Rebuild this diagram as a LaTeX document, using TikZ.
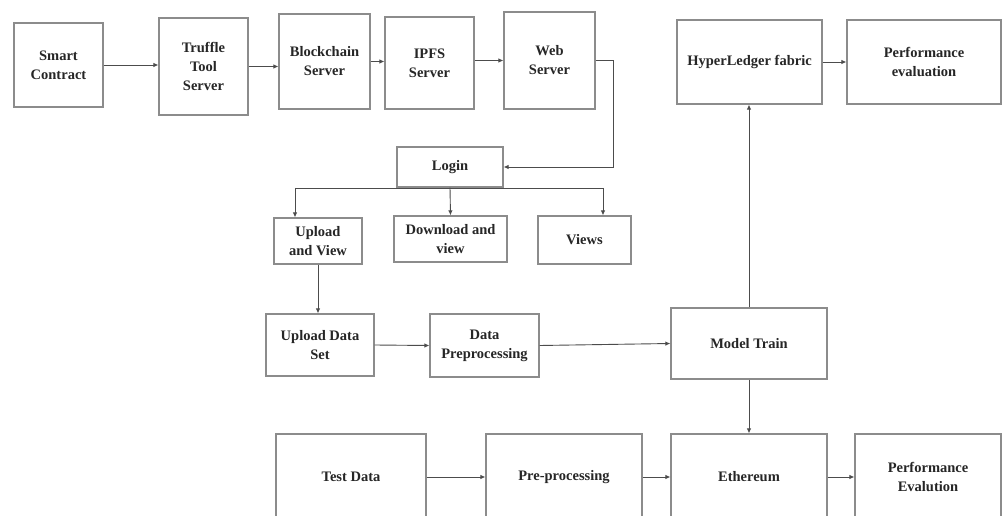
\documentclass[tikz,border=0pt]{standalone}
\usepackage{fontspec}
\setmainfont{Liberation Serif}
\usetikzlibrary{arrows.meta}
\tikzset{
  box/.style={draw=black!45, line width=1.2pt, fill=white, align=center,
    inner sep=2pt, text=black!85,
    font=\bfseries\fontsize{14.5}{19}\selectfont},
  arr/.style={draw=black!70, line width=0.9pt, -{Latex[length=5pt,width=4.5pt]}},
  ln/.style={draw=black!70, line width=0.9pt},
}
\begin{document}
\begin{tikzpicture}[x=1pt,y=-1pt]
\useasboundingbox (0,0) rectangle (1002,516);
\fill[white] (0,0) rectangle (1002,516);
% top row
\node[box, minimum width=89pt, minimum height=84pt] (sc) at (58.5,65) {Smart\\Contract};
\node[box, minimum width=89pt, minimum height=97pt] (tt) at (203.5,66.5) {Truffle\\Tool\\Server};
\node[box, minimum width=91pt, minimum height=95pt] (bc) at (324.5,61.5) {Blockchain\\Server};
\node[box, minimum width=89pt, minimum height=92pt] (ipfs) at (429.5,63) {IPFS\\Server};
\node[box, minimum width=91pt, minimum height=97pt] (web) at (549.5,60.5) {Web\\Server};
\node[box, minimum width=106pt, minimum height=40pt] (login) at (450,167) {Login};
% second row
\node[box, minimum width=88pt, minimum height=46pt] (uv) at (318,241) {Upload\\and View};
\node[box, minimum width=113pt, minimum height=46pt] (dv) at (450.5,239) {Download and\\view};
\node[box, minimum width=93pt, minimum height=48pt] (views) at (584.5,240) {Views};
% third row
\node[box, minimum width=108pt, minimum height=62pt] (uds) at (320,345) {Upload Data\\Set};
\node[box, minimum width=109pt, minimum height=63pt] (dp) at (484.5,345.5) {Data\\Preprocessing};
\node[box, minimum width=156pt, minimum height=71pt] (mt) at (749,343.5) {Model Train};
% right top
\node[box, minimum width=145pt, minimum height=84pt] (hl) at (749.5,62) {HyperLedger fabric};
\node[box, minimum width=154pt, minimum height=84pt] (pe1) at (924,62) {Performance\\evaluation};
% bottom row
\node[box, minimum width=150pt, minimum height=86pt] (td) at (351,477) {Test Data};
\node[box, minimum width=156pt, minimum height=86pt] (pp) at (564,477) {Pre-processing};
\node[box, minimum width=156pt, minimum height=86pt] (eth) at (749,477) {Ethereum};
\node[box, minimum width=146pt, minimum height=86pt] (pe2) at (928,477) {Performance\\Evalution};
% connectors top row
\draw[arr] (sc.east) -- (sc.east -| tt.west);
\draw[arr] (tt.east) -- (tt.east -| bc.west);
\draw[arr] (bc.east) -- (bc.east -| ipfs.west);
\draw[arr] (ipfs.east |- web.west) -- (web.west);
\draw[arr] (web.east) -- ++(18,0) |- (login.east);
% branches
\coordinate (bl) at (295,188);
\coordinate (brr) at (603,188);
\draw[ln] (bl) -- (brr);
\draw[arr] (login.south) -- (dv.north);
\draw[arr] (bl) -- (bl |- uv.north);
\draw[arr] (brr) -- (brr |- views.north);
\draw[arr] (uv.south) -- (uv.south |- uds.north);
\draw[arr] (uds.east) -- (dp.west);
\draw[arr] (dp.east) -- (mt.west);
\draw[arr] (mt.north) -- (mt.north |- hl.south);
\draw[arr] (hl.east) -- (pe1.west);
\draw[arr] (mt.south) -- (eth.north);
\draw[arr] (td.east) -- (pp.west);
\draw[arr] (pp.east) -- (eth.west);
\draw[arr] (eth.east) -- (pe2.west);
\end{tikzpicture}
\end{document}
